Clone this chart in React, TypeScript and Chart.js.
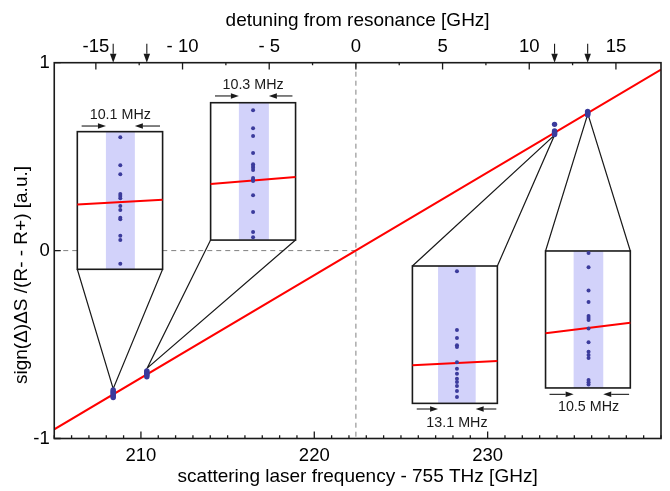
import React, { useEffect, useRef } from "react";
import { Chart, registerables } from "chart.js";

Chart.register(...registerables);

// ---------- axes ----------
const freqRange = [205, 240];
const yRange = [-1, 1];
const detuningZero = 222.4;
const bottomLabeledTicks = [210, 220, 230];
const topMajorTicks = [-15, -10, -5, 0, 5, 10, 15];
const topMinorTicks = [-12.5, -7.5, -2.5, 2.5, 7.5, 12.5];
const topTickText = ["-15", "- 10", "- 5", "0", "5", "10", "15"];
const xTitle = "scattering laser frequency - 755 THz [GHz]";
const topTitle = "detuning from resonance [GHz]";
const yTitle = "sign(\u0394)\u0394S /(R- - R+) [a.u.]";

// ---------- main fit line ----------
const fitLineX = [205, 240];
const fitLineY = [-0.951, 0.963];

// ---------- measured clusters (main scale) ----------
const clusterFreq = [208.4, 210.34, 233.86, 235.77];
const cluster1Y = [-0.741, -0.748, -0.755, -0.762, -0.769, -0.776, -0.782];
const cluster2Y = [-0.64, -0.646, -0.652, -0.658, -0.664, -0.672];
const cluster3Y = [0.672, 0.637, 0.632, 0.628, 0.623, 0.618];
const cluster4Y = [0.741, 0.736, 0.731, 0.727, 0.722];

// ---------- insets (in main-axis units) ----------
const inset1BoxX = [206.33, 211.25];
const inset1BoxY = [0.633, -0.0995];
const inset1BandX = [207.98, 209.65];
const inset1DotX = [208.81];
const inset1DotY = [0.603, 0.454, 0.406, 0.301, 0.291, 0.278, 0.237, 0.216, 0.175, 0.167, 0.079, 0.056, -0.07];
const inset1FitY = [0.246, 0.271];
const inset1Apex = [208.4, -0.735];
const inset1Label = "10.1 MHz";
const inset1LabelY = [0.725];
const inset1ArrowY = [0.663];
const inset1ArrowStart = [206.58, 211.1];

const inset2BoxX = [214.02, 218.92];
const inset2BoxY = [0.787, 0.056];
const inset2BandX = [215.65, 217.38];
const inset2DotX = [216.47];
const inset2DotY = [0.747, 0.651, 0.61, 0.519, 0.459, 0.45, 0.441, 0.429, 0.386, 0.379, 0.37, 0.294, 0.205, 0.099, 0.071];
const inset2FitY = [0.354, 0.392];
const inset2Apex = [210.36, -0.626];
const inset2Label = "10.3 MHz";
const inset2LabelY = [0.887];
const inset2ArrowY = [0.823];
const inset2ArrowStart = [214.27, 218.74];

const inset3BoxX = [225.66, 230.56];
const inset3BoxY = [-0.082, -0.813];
const inset3BandX = [227.14, 229.31];
const inset3DotX = [228.23];
const inset3DotY = [-0.11, -0.423, -0.465, -0.504, -0.513, -0.594, -0.629, -0.655, -0.682, -0.699, -0.721, -0.747, -0.779];
const inset3FitY = [-0.61, -0.588];
const inset3Apex = [233.86, 0.615];
const inset3Label = "13.1 MHz";
const inset3LabelY = [-0.91];
const inset3ArrowY = [-0.843];
const inset3ArrowStart = [225.91, 230.5];

const inset4BoxX = [233.34, 238.23];
const inset4BoxY = [-0.002, -0.731];
const inset4BandX = [234.96, 236.67];
const inset4DotX = [235.82];
const inset4DotY = [-0.013, -0.089, -0.213, -0.274, -0.348, -0.359, -0.369, -0.414, -0.488, -0.538, -0.556, -0.572, -0.689, -0.701, -0.712];
const inset4FitY = [-0.44, -0.384];
const inset4Apex = [235.78, 0.728];
const inset4Label = "10.5 MHz";
const inset4LabelY = [-0.824];
const inset4ArrowY = [-0.765];
const inset4ArrowStart = [233.57, 238.16];

// ---------- styles ----------
const FONT = "'Liberation Sans', Arial, Helvetica, sans-serif";
const DOT = "#3b3b9c";
const BAND = "#d2d2fa";
const RED = "#ff0000";
const INK = "#1a1a1a";

type Inset = {
  boxX: number[]; boxY: number[]; bandX: number[]; dotX: number; dotY: number[];
  fitY: number[]; apex: number[]; label: string; labelY: number; arrowY: number; arrowStart: number[];
};

const insets: Inset[] = [
  { boxX: inset1BoxX, boxY: inset1BoxY, bandX: inset1BandX, dotX: inset1DotX[0], dotY: inset1DotY, fitY: inset1FitY, apex: inset1Apex, label: inset1Label, labelY: inset1LabelY[0], arrowY: inset1ArrowY[0], arrowStart: inset1ArrowStart },
  { boxX: inset2BoxX, boxY: inset2BoxY, bandX: inset2BandX, dotX: inset2DotX[0], dotY: inset2DotY, fitY: inset2FitY, apex: inset2Apex, label: inset2Label, labelY: inset2LabelY[0], arrowY: inset2ArrowY[0], arrowStart: inset2ArrowStart },
  { boxX: inset3BoxX, boxY: inset3BoxY, bandX: inset3BandX, dotX: inset3DotX[0], dotY: inset3DotY, fitY: inset3FitY, apex: inset3Apex, label: inset3Label, labelY: inset3LabelY[0], arrowY: inset3ArrowY[0], arrowStart: inset3ArrowStart },
  { boxX: inset4BoxX, boxY: inset4BoxY, bandX: inset4BandX, dotX: inset4DotX[0], dotY: inset4DotY, fitY: inset4FitY, apex: inset4Apex, label: inset4Label, labelY: inset4LabelY[0], arrowY: inset4ArrowY[0], arrowStart: inset4ArrowStart },
];

const clusters = [cluster1Y, cluster2Y, cluster3Y, cluster4Y];

function drawArrow(ctx: CanvasRenderingContext2D, x0: number, y0: number, x1: number, y1: number, headLen: number, headW: number) {
  const ang = Math.atan2(y1 - y0, x1 - x0);
  const bx = x1 - headLen * Math.cos(ang);
  const by = y1 - headLen * Math.sin(ang);
  ctx.beginPath();
  ctx.moveTo(x0, y0);
  ctx.lineTo(bx, by);
  ctx.stroke();
  ctx.beginPath();
  ctx.moveTo(x1, y1);
  ctx.lineTo(bx + (headW / 2) * Math.sin(ang), by - (headW / 2) * Math.cos(ang));
  ctx.lineTo(bx - (headW / 2) * Math.sin(ang), by + (headW / 2) * Math.cos(ang));
  ctx.closePath();
  ctx.fill();
}

const backgroundPlugin = {
  id: "insetBackground",
  beforeDatasetsDraw(chart: any) {
    const { ctx, chartArea, scales } = chart;
    const xs = scales.x;
    const ys = scales.y;
    ctx.save();
    // dashed reference lines
    ctx.strokeStyle = "#808080";
    ctx.lineWidth = 1;
    ctx.setLineDash([5, 4]);
    const zx = xs.getPixelForValue(detuningZero);
    const zy = ys.getPixelForValue(0);
    ctx.beginPath();
    ctx.moveTo(zx, chartArea.top);
    ctx.lineTo(zx, chartArea.bottom);
    ctx.moveTo(chartArea.left, zy);
    ctx.lineTo(zx, zy);
    ctx.stroke();
    ctx.setLineDash([]);
    insets.forEach((ins) => {
      const l = xs.getPixelForValue(ins.boxX[0]);
      const r = xs.getPixelForValue(ins.boxX[1]);
      const t = ys.getPixelForValue(ins.boxY[0]);
      const b = ys.getPixelForValue(ins.boxY[1]);
      ctx.fillStyle = "#ffffff";
      ctx.fillRect(l, t, r - l, b - t);
      const bl = xs.getPixelForValue(ins.bandX[0]);
      const br = xs.getPixelForValue(ins.bandX[1]);
      ctx.fillStyle = BAND;
      ctx.fillRect(bl, t, br - bl, b - t);
      ctx.strokeStyle = INK;
      ctx.lineWidth = 1.6;
      ctx.strokeRect(l, t, r - l, b - t);
    });
    ctx.restore();
  },
};

const overlayPlugin = {
  id: "overlay",
  afterDatasetsDraw(chart: any) {
    const { ctx, chartArea, scales } = chart;
    const xs = scales.x;
    const ys = scales.y;
    const xt = scales.xTop;
    ctx.save();
    ctx.strokeStyle = INK;
    ctx.fillStyle = INK;
    ctx.lineWidth = 1.1;
    // inset labels and arrows
    insets.forEach((ins) => {
      const ay = ys.getPixelForValue(ins.arrowY);
      drawArrow(ctx, xs.getPixelForValue(ins.arrowStart[0]), ay, xs.getPixelForValue(ins.bandX[0]), ay, 8, 5.5);
      drawArrow(ctx, xs.getPixelForValue(ins.arrowStart[1]), ay, xs.getPixelForValue(ins.bandX[1]), ay, 8, 5.5);
      ctx.font = `14.3px ${FONT}`;
      ctx.textAlign = "center";
      ctx.textBaseline = "alphabetic";
      ctx.fillText(ins.label, xs.getPixelForValue(ins.dotX), ys.getPixelForValue(ins.labelY) + 0.358 * 14.3);
    });
    // arrows on top axis marking the measured frequencies
    clusterFreq.forEach((f) => {
      const px = xs.getPixelForValue(f);
      drawArrow(ctx, px, chartArea.top - 19, px, chartArea.top, 9, 6.5);
    });
    // inward ticks
    ctx.lineWidth = 1.3;
    ctx.beginPath();
    xs.ticks.forEach((t: any) => {
      const px = xs.getPixelForValue(t.value);
      const len = bottomLabeledTicks.includes(t.value) ? 7 : 3.3;
      ctx.moveTo(px, chartArea.bottom);
      ctx.lineTo(px, chartArea.bottom - len);
    });
    xt.ticks.forEach((t: any) => {
      const px = xt.getPixelForValue(t.value);
      const len = topMajorTicks.includes(t.value) ? 6.7 : 2.5;
      ctx.moveTo(px, chartArea.top);
      ctx.lineTo(px, chartArea.top + len);
    });
    ys.ticks.forEach((t: any) => {
      const py = ys.getPixelForValue(t.value);
      ctx.moveTo(chartArea.left, py);
      ctx.lineTo(chartArea.left + 6.5, py);
    });
    ctx.stroke();
    // frame
    ctx.lineWidth = 1.6;
    ctx.strokeRect(chartArea.left, chartArea.top, chartArea.right - chartArea.left, chartArea.bottom - chartArea.top);
    // y title
    ctx.save();
    ctx.translate(22, 275);
    ctx.rotate(-Math.PI / 2);
    ctx.font = `19px ${FONT}`;
    ctx.textAlign = "center";
    ctx.textBaseline = "middle";
    ctx.fillStyle = "#000";
    ctx.fillText(yTitle, 0, 0);
    ctx.restore();
    ctx.restore();
  },
};

export default function App() {
  const canvasRef = useRef<HTMLCanvasElement>(null);

  useEffect(() => {
    const canvas = canvasRef.current;
    if (!canvas) return;
    Chart.defaults.color = "#000";

    const datasets: any[] = [];
    insets.forEach((ins) => {
      const edge = ins.apex[1] < ins.boxY[1] ? ins.boxY[1] : ins.boxY[0];
      datasets.push({
        type: "line",
        data: [
          { x: ins.boxX[0], y: edge },
          { x: ins.apex[0], y: ins.apex[1] },
          { x: ins.boxX[1], y: edge },
        ],
        borderColor: INK,
        borderWidth: 1.2,
        pointRadius: 0,
        fill: false,
        tension: 0,
        order: 6,
      });
      datasets.push({
        type: "line",
        data: [
          { x: ins.boxX[0], y: ins.fitY[0] },
          { x: ins.boxX[1], y: ins.fitY[1] },
        ],
        borderColor: RED,
        borderWidth: 2,
        pointRadius: 0,
        fill: false,
        order: 5,
      });
      datasets.push({
        type: "scatter",
        data: ins.dotY.map((y) => ({ x: ins.dotX, y })),
        backgroundColor: DOT,
        borderWidth: 0,
        pointRadius: 2,
        order: 4,
      });
    });
    datasets.push({
      type: "line",
      data: fitLineX.map((x, i) => ({ x, y: fitLineY[i] })),
      borderColor: RED,
      borderWidth: 2,
      pointRadius: 0,
      fill: false,
      order: 3,
    });
    clusters.forEach((ys, i) => {
      datasets.push({
        type: "scatter",
        data: ys.map((y) => ({ x: clusterFreq[i], y })),
        backgroundColor: DOT,
        borderWidth: 0,
        pointRadius: 2.7,
        order: 2,
      });
    });

    const tickFont = { family: FONT, size: 18.5 };
    const titleFont = { family: FONT, size: 19 };

    const chart = new Chart(canvas, {
      type: "scatter",
      data: { datasets },
      options: {
        animation: false,
        responsive: false,
        events: [],
        layout: { padding: { left: 0, right: 9, top: 0, bottom: 0 } },
        plugins: { legend: { display: false }, tooltip: { enabled: false } },
        scales: {
          x: {
            type: "linear",
            position: "bottom",
            min: freqRange[0],
            max: freqRange[1],
            grid: { display: false, drawTicks: false },
            border: { display: false },
            ticks: {
              stepSize: 1,
              autoSkip: false,
              maxRotation: 0,
              padding: 6,
              font: tickFont,
              color: "#000",
              callback: (v: any) => (bottomLabeledTicks.includes(Number(v)) ? String(v) : ""),
            },
            title: { display: true, text: xTitle, font: titleFont, color: "#000", padding: { top: 0, bottom: 3 } },
            afterFit: (s: any) => {
              s.height = 52.5;
            },
          },
          xTop: {
            type: "linear",
            position: "top",
            min: freqRange[0] - detuningZero,
            max: freqRange[1] - detuningZero,
            grid: { display: false, drawTicks: false },
            border: { display: false },
            afterBuildTicks: (s: any) => {
              s.ticks = [...topMajorTicks, ...topMinorTicks].sort((a, b) => a - b).map((v) => ({ value: v }));
            },
            ticks: {
              autoSkip: false,
              maxRotation: 0,
              padding: 4.5,
              font: tickFont,
              color: "#000",
              callback: (v: any) => {
                const i = topMajorTicks.indexOf(Number(v));
                return i >= 0 ? topTickText[i] : "";
              },
            },
            title: { display: true, text: topTitle, font: titleFont, color: "#000", padding: { top: 9, bottom: 0 } },
            afterFit: (s: any) => {
              s.height = 62.7;
            },
          },
          y: {
            type: "linear",
            position: "left",
            min: yRange[0],
            max: yRange[1],
            grid: { display: false, drawTicks: false },
            border: { display: false },
            ticks: { stepSize: 1, padding: 4.5, font: tickFont, color: "#000" },
            afterFit: (s: any) => {
              s.width = 54.25;
            },
          },
        },
      },
      plugins: [backgroundPlugin, overlayPlugin],
    });

    return () => chart.destroy();
  }, []);

  return (
    <div style={{ position: "absolute", left: 0, top: 0, width: 670, height: 491, background: "#fff" }}>
      <canvas ref={canvasRef} width={670} height={491} style={{ display: "block", width: 670, height: 491 }} />
    </div>
  );
}
